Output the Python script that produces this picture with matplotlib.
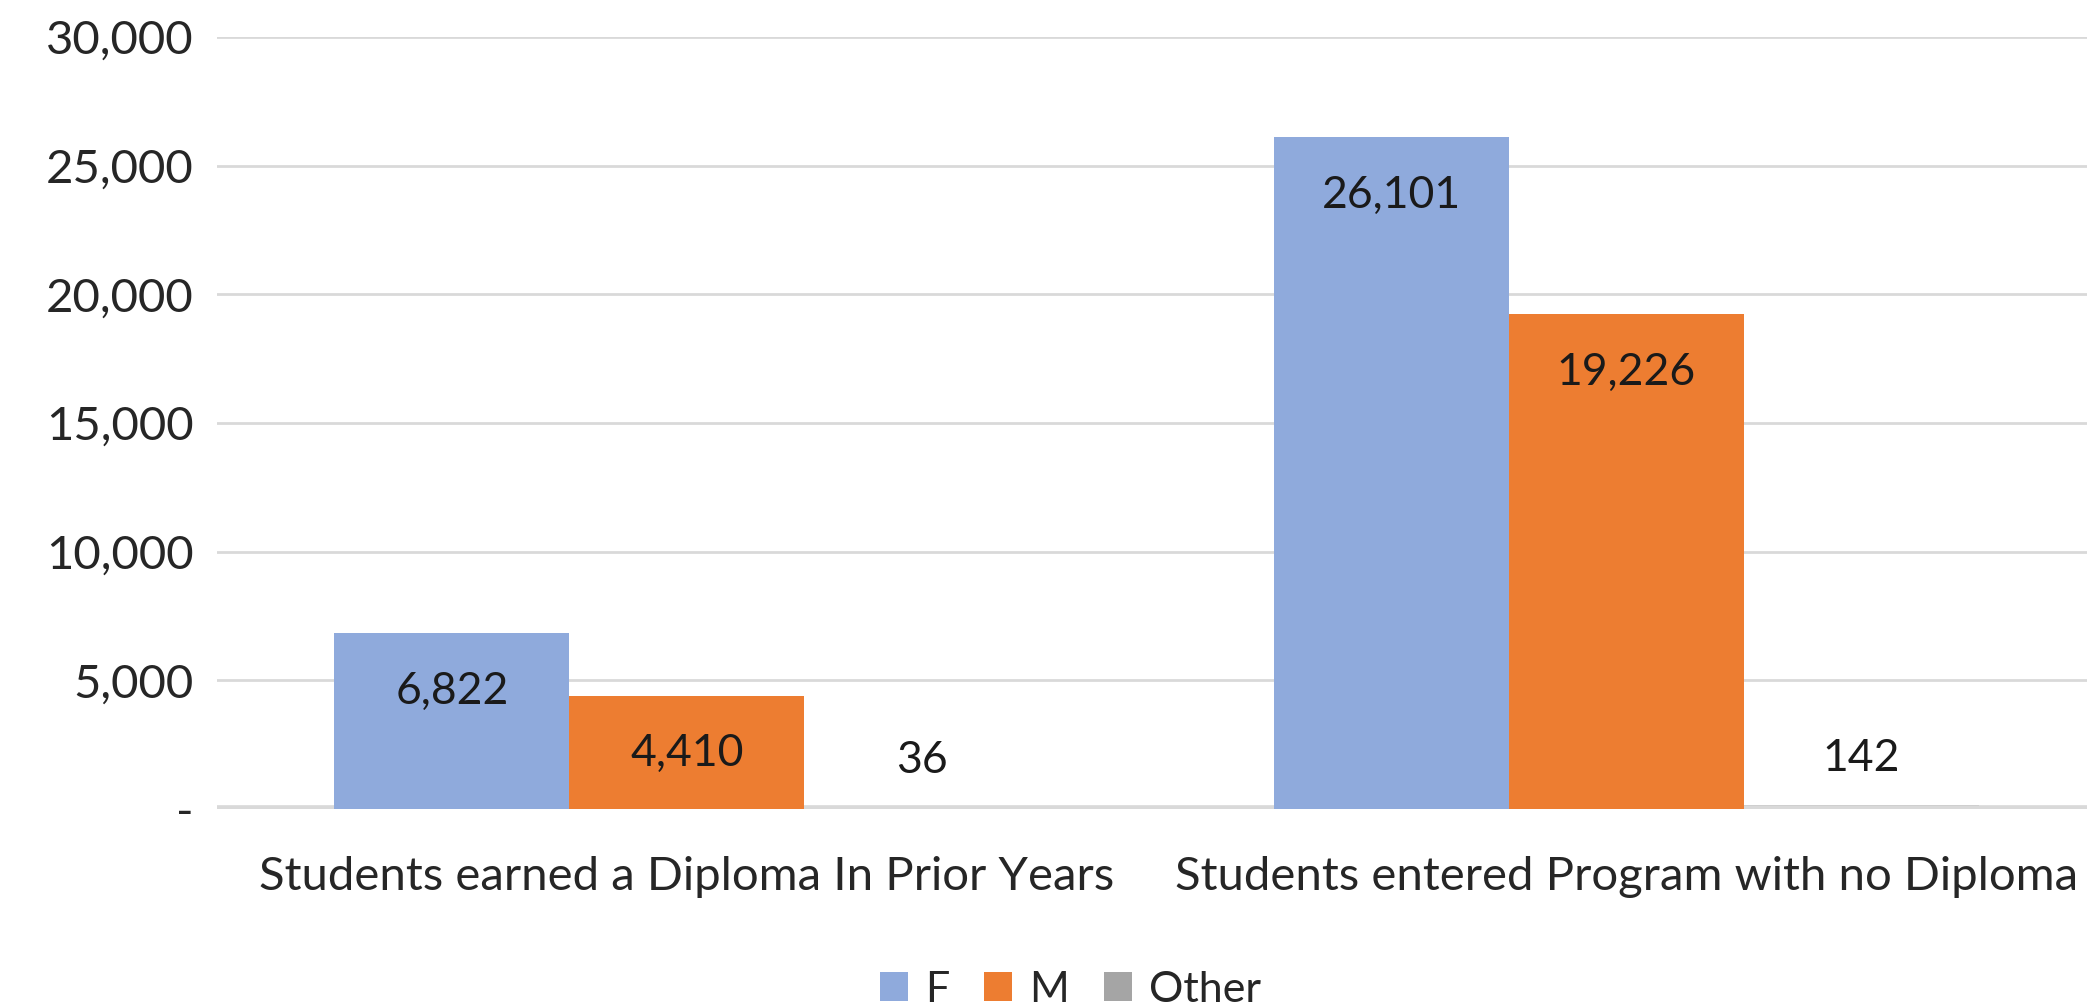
import numpy as np
import matplotlib
matplotlib.use('Agg')
import matplotlib.pyplot as plt
from matplotlib.ticker import FuncFormatter, MultipleLocator

# data
categories = ["Students earned a Diploma In Prior Years",
              "Students entered Program with no Diploma"]
series_names = ["F", "M", "Other"]
f_vals = [6822, 26101]
m_vals = [4410, 19226]
other_vals = [36, 142]
colors = ["#8FAADC", "#ED7D31", "#A5A5A5"]

plt.rcParams['font.family'] = ['Lato', 'DejaVu Sans']

fig = plt.figure(figsize=(20.87, 10.06), dpi=100)
ax = fig.add_axes([217 / 2087, 1 - 809 / 1006, 1879 / 2087, 772 / 1006])

x = np.arange(len(categories))
width = 0.25
all_vals = [f_vals, m_vals, other_vals]
for i, (name, vals, col) in enumerate(zip(series_names, all_vals, colors)):
    pos = x + (i - 1) * width
    # tiny "Other" bars sit under the baseline like in the original
    bars = ax.bar(pos, vals, width, color=col, label=name, zorder=1 if i == 2 else 3)
    for b, v in zip(bars, vals):
        off = -42 if v > 2000 else 34   # inside end vs outside end
        ax.annotate(f"{v:,}", (b.get_x() + b.get_width() / 2, v),
                    xytext=(0, off), textcoords='offset points',
                    ha='center', va='center', fontsize=32, color='#1a1a1a')

ax.set_xlim(-0.5, 1.5)
ax.set_ylim(0, 30000)
ax.yaxis.set_major_locator(MultipleLocator(5000))
ax.yaxis.set_major_formatter(FuncFormatter(lambda v, p: "-" if v == 0 else f"{int(v):,}"))
ax.grid(axis='y', color='#D9D9D9', linewidth=2, zorder=2)
ax.axhline(0, color='#D9D9D9', linewidth=5.5, zorder=2)
ax.set_xticks(x)
ax.set_xticklabels(categories, fontsize=34)
ax.tick_params(axis='both', length=0, colors='#262626')
ax.tick_params(axis='y', pad=17, labelsize=34)
ax.tick_params(axis='x', pad=34)
for s in ax.spines.values():
    s.set_visible(False)

fig.legend(loc='center', bbox_to_anchor=(0.513, 0.016), ncol=3, frameon=False,
           fontsize=31, handlelength=0.65, handleheight=0.65,
           handletextpad=0.4, columnspacing=0.8, labelcolor='#262626')

fig.savefig('out.png', dpi=100)
